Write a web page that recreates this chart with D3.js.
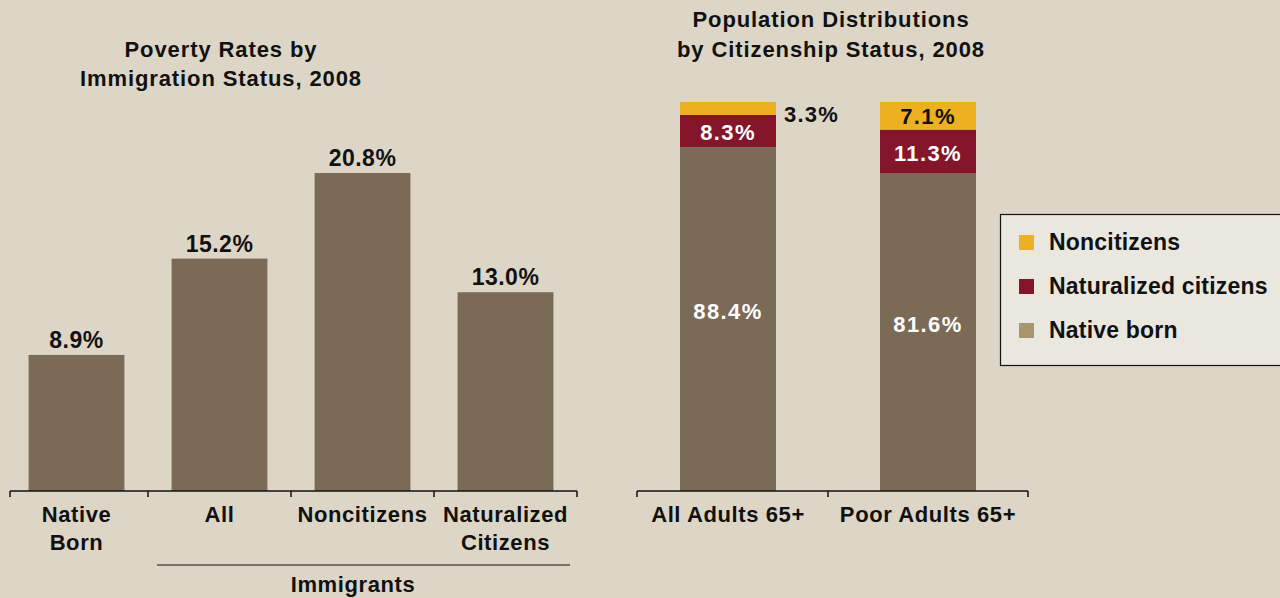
<!DOCTYPE html>
<html>
<head>
<meta charset="utf-8">
<script src="https://cdn.jsdelivr.net/npm/d3@7"></script>
<style>
  html, body { margin: 0; padding: 0; background: #ddd6c7; }
  svg { display: block; font-family: "Liberation Sans", Arial, sans-serif; font-weight: bold; }
</style>
</head>
<body>
<svg id="chart" width="1280" height="598"></svg>
<script>
// Poverty rates (%) by immigration status
const povertyCategories = ["Native Born", "All", "Noncitizens", "Naturalized Citizens"];
const povertyRates = [8.9, 15.2, 20.8, 13.0];

// Population shares (%) by citizenship status
const popGroups = ["All Adults 65+", "Poor Adults 65+"];
const nativeBorn = [88.4, 81.6];
const naturalized = [8.3, 11.3];
const noncitizens = [3.3, 7.1];

const seriesNames = ["Native born", "Naturalized citizens", "Noncitizens"];
const seriesColors = ["#7b6a56", "#84152a", "#ecb020"];
const legendColors = { "Noncitizens": "#ecb020", "Naturalized citizens": "#84152a", "Native born": "#a8976e" };

const svg = d3.select("#chart");
const ink = "#111";
const baseY = 491;

// ---------- Left panel: poverty rates ----------
const xL = d3.scaleBand().domain(povertyCategories).range([5, 577]).paddingInner(0.33).paddingOuter(0.165);
const yL = d3.scaleLinear().domain([0, 20.8]).range([baseY, 173]);

const left = svg.append("g");
left.selectAll("rect").data(povertyRates).join("rect")
  .attr("x", (d, i) => xL(povertyCategories[i]))
  .attr("y", d => yL(d))
  .attr("width", xL.bandwidth())
  .attr("height", d => baseY - yL(d))
  .attr("fill", seriesColors[0]);

left.selectAll("text.val").data(povertyRates).join("text")
  .attr("class", "val")
  .attr("x", (d, i) => xL(povertyCategories[i]) + xL.bandwidth() / 2)
  .attr("y", d => yL(d) - 7)
  .attr("text-anchor", "middle")
  .attr("font-size", 23)
  .attr("letter-spacing", 0.5)
  .attr("fill", ink)
  .text(d => d.toFixed(1) + "%");

// category axis with ticks at the band edges
const stepL = xL.step();
const edgesL = [10, ...povertyCategories.slice(1).map(c => xL(c) - (stepL - xL.bandwidth()) / 2), 577];
left.append("line").attr("x1", 10).attr("x2", 577).attr("y1", baseY).attr("y2", baseY)
  .attr("stroke", ink).attr("stroke-width", 1.5);
left.selectAll("line.tick").data(edgesL).join("line")
  .attr("class", "tick")
  .attr("x1", d => d).attr("x2", d => d)
  .attr("y1", baseY).attr("y2", baseY + 6)
  .attr("stroke", ink).attr("stroke-width", 1.5);

const catLines = { "Native Born": ["Native", "Born"], "All": ["All"], "Noncitizens": ["Noncitizens"], "Naturalized Citizens": ["Naturalized", "Citizens"] };
povertyCategories.forEach(c => {
  const cx = xL(c) + xL.bandwidth() / 2;
  const t = left.append("text")
    .attr("x", cx)
    .attr("y", 522)
    .attr("text-anchor", "middle")
    .attr("font-size", 22)
    .attr("letter-spacing", 0.6)
    .attr("fill", ink);
  catLines[c].forEach((line, i) => {
    t.append("tspan").attr("x", cx).attr("dy", i === 0 ? 0 : 28).text(line);
  });
});

left.append("line").attr("x1", 157).attr("x2", 570).attr("y1", 565).attr("y2", 565)
  .attr("stroke", ink).attr("stroke-width", 1);
left.append("text").attr("x", 353).attr("y", 592).attr("text-anchor", "middle")
  .attr("font-size", 22).attr("letter-spacing", 0.6).attr("fill", ink).text("Immigrants");

const titleL = left.append("text").attr("text-anchor", "middle").attr("font-size", 22)
  .attr("letter-spacing", 0.9).attr("fill", ink);
titleL.append("tspan").attr("x", 221).attr("y", 57).text("Poverty Rates by");
titleL.append("tspan").attr("x", 221).attr("y", 86).text("Immigration Status, 2008");

// ---------- Right panel: population distributions ----------
const xR = d3.scaleBand().domain(popGroups).range([628, 1028]).paddingInner(0.52).paddingOuter(0.26);
const yR = d3.scaleLinear().domain([0, 100]).range([baseY, 102]);

const rows = popGroups.map((g, i) => ({ group: g, "Native born": nativeBorn[i], "Naturalized citizens": naturalized[i], "Noncitizens": noncitizens[i] }));
const stack = d3.stack().keys(seriesNames)(rows);

const right = svg.append("g");
stack.forEach((layer, li) => {
  right.selectAll(null).data(layer).join("rect")
    .attr("x", d => xR(d.data.group))
    .attr("y", d => yR(d[1]))
    .attr("width", xR.bandwidth())
    .attr("height", d => yR(d[0]) - yR(d[1]))
    .attr("fill", seriesColors[li]);
});

// segment labels
const labelShift = [0, 9, 8];
stack.forEach((layer, li) => {
  layer.forEach(d => {
    const v = d[1] - d[0];
    const cx = xR(d.data.group) + xR.bandwidth() / 2;
    const mid = (yR(d[0]) + yR(d[1])) / 2;
    const txt = v.toFixed(1) + "%";
    if (li === 2 && yR(d[0]) - yR(d[1]) < 20) {
      right.append("text").attr("x", xR(d.data.group) + xR.bandwidth() + 8).attr("y", yR(d[1]) + 20)
        .attr("font-size", 22).attr("fill", ink).attr("letter-spacing", 1.2).text(txt);
    } else {
      right.append("text").attr("x", cx).attr("y", mid + labelShift[li])
        .attr("text-anchor", "middle").attr("font-size", 22).attr("letter-spacing", 1.4)
        .attr("fill", li === 2 ? ink : "#fff").text(txt);
    }
  });
});

const stepR = xR.step();
const edgesR = [637, xR(popGroups[1]) - (stepR - xR.bandwidth()) / 2, 1028];
right.append("line").attr("x1", 637).attr("x2", 1028).attr("y1", baseY).attr("y2", baseY)
  .attr("stroke", ink).attr("stroke-width", 1.5);
right.selectAll("line.tick").data(edgesR).join("line")
  .attr("class", "tick")
  .attr("x1", d => d).attr("x2", d => d)
  .attr("y1", baseY).attr("y2", baseY + 6)
  .attr("stroke", ink).attr("stroke-width", 1.5);
right.selectAll("text.cat").data(popGroups).join("text")
  .attr("class", "cat")
  .attr("x", d => xR(d) + xR.bandwidth() / 2)
  .attr("y", 522)
  .attr("text-anchor", "middle").attr("font-size", 22).attr("letter-spacing", 0.6).attr("fill", ink)
  .text(d => d);

const titleR = right.append("text").attr("text-anchor", "middle").attr("font-size", 22)
  .attr("letter-spacing", 0.9).attr("fill", ink);
titleR.append("tspan").attr("x", 831).attr("y", 27).text("Population Distributions");
titleR.append("tspan").attr("x", 831).attr("y", 57).text("by Citizenship Status, 2008");

// ---------- Legend ----------
const legend = svg.append("g").attr("transform", "translate(1000,214)");
legend.append("rect").attr("x", 0.5).attr("y", 0.5).attr("width", 300).attr("height", 151)
  .attr("fill", "#eae7df").attr("stroke", ink).attr("stroke-width", 1.2);
const legendOrder = ["Noncitizens", "Naturalized citizens", "Native born"];
legendOrder.forEach((name, i) => {
  const bottom = 36 + i * 44;
  legend.append("rect").attr("x", 19).attr("y", bottom - 15).attr("width", 15).attr("height", 15)
    .attr("fill", legendColors[name]);
  legend.append("text").attr("x", 49).attr("y", bottom).attr("font-size", 23)
    .attr("letter-spacing", 0.2).attr("fill", ink).text(name);
});
</script>
</body>
</html>
